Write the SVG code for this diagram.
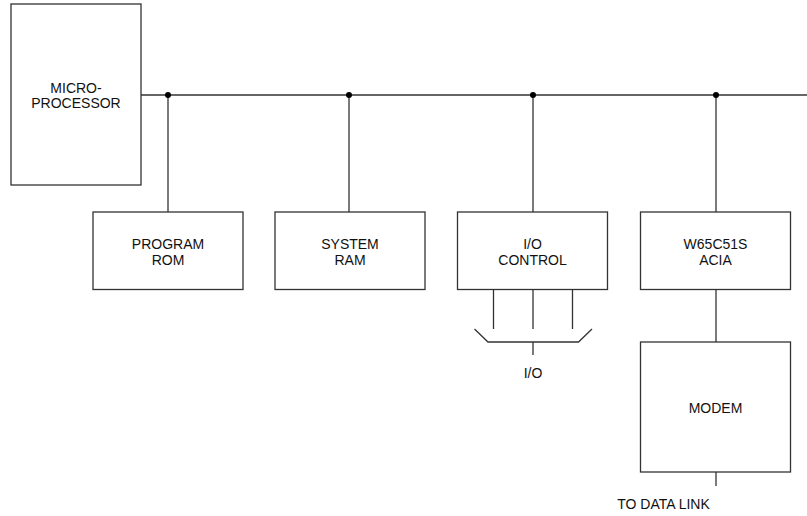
<svg xmlns="http://www.w3.org/2000/svg" width="807" height="516" viewBox="0 0 807 516">
<style>
.box{fill:#fff;stroke:#333;stroke-width:1.3}
.ln{fill:none;stroke:#333;stroke-width:1.3}
.dot{fill:#000}
text{font-family:"Liberation Sans",Arial,sans-serif;font-size:14px;fill:#111;text-anchor:middle}
</style>
<rect width="807" height="516" fill="#fff"/>
<g id="connectors">
<line class="ln" x1="141" y1="95" x2="807" y2="95"/>
<line class="ln" x1="168" y1="95" x2="168" y2="212"/>
<line class="ln" x1="349" y1="95" x2="349" y2="212"/>
<line class="ln" x1="533" y1="95" x2="533" y2="212"/>
<line class="ln" x1="716" y1="95" x2="716" y2="212"/>
<line class="ln" x1="716" y1="290" x2="716" y2="342"/>
<line class="ln" x1="716" y1="472" x2="716" y2="486"/>
<line class="ln" x1="493.5" y1="290" x2="493.5" y2="329"/>
<line class="ln" x1="533" y1="290" x2="533" y2="329"/>
<line class="ln" x1="572.5" y1="290" x2="572.5" y2="329"/>
<polyline class="ln" points="474.5,329 488,342 578.5,342 592,329"/>
<line class="ln" x1="533" y1="342" x2="533" y2="355"/>
<circle class="dot" cx="168" cy="95" r="3"/>
<circle class="dot" cx="349" cy="95" r="3"/>
<circle class="dot" cx="533" cy="95" r="3"/>
<circle class="dot" cx="716" cy="95" r="3"/>
</g>
<g id="microprocessor">
<rect class="box" x="11" y="4" width="130" height="181"/>
<text x="76" y="93">MICRO-</text>
<text x="76" y="108">PROCESSOR</text>
</g>
<g id="program-rom">
<rect class="box" x="93" y="212" width="150" height="77.5"/>
<text x="168" y="249">PROGRAM</text>
<text x="168" y="265">ROM</text>
</g>
<g id="system-ram">
<rect class="box" x="275" y="212" width="150" height="77.5"/>
<text x="350" y="249">SYSTEM</text>
<text x="350" y="265">RAM</text>
</g>
<g id="io-control">
<rect class="box" x="457.5" y="212" width="150" height="77.5"/>
<text x="532.5" y="249">I/O</text>
<text x="532.5" y="265">CONTROL</text>
</g>
<g id="acia">
<rect class="box" x="640.5" y="212" width="150" height="77.5"/>
<text x="715.5" y="249">W65C51S</text>
<text x="715.5" y="265">ACIA</text>
</g>
<g id="modem">
<rect class="box" x="640.5" y="342" width="150" height="130"/>
<text x="715.5" y="413">MODEM</text>
</g>
<g id="labels">
<text x="533" y="378">I/O</text>
<text x="663.5" y="509">TO DATA LINK</text>
</g>
</svg>
